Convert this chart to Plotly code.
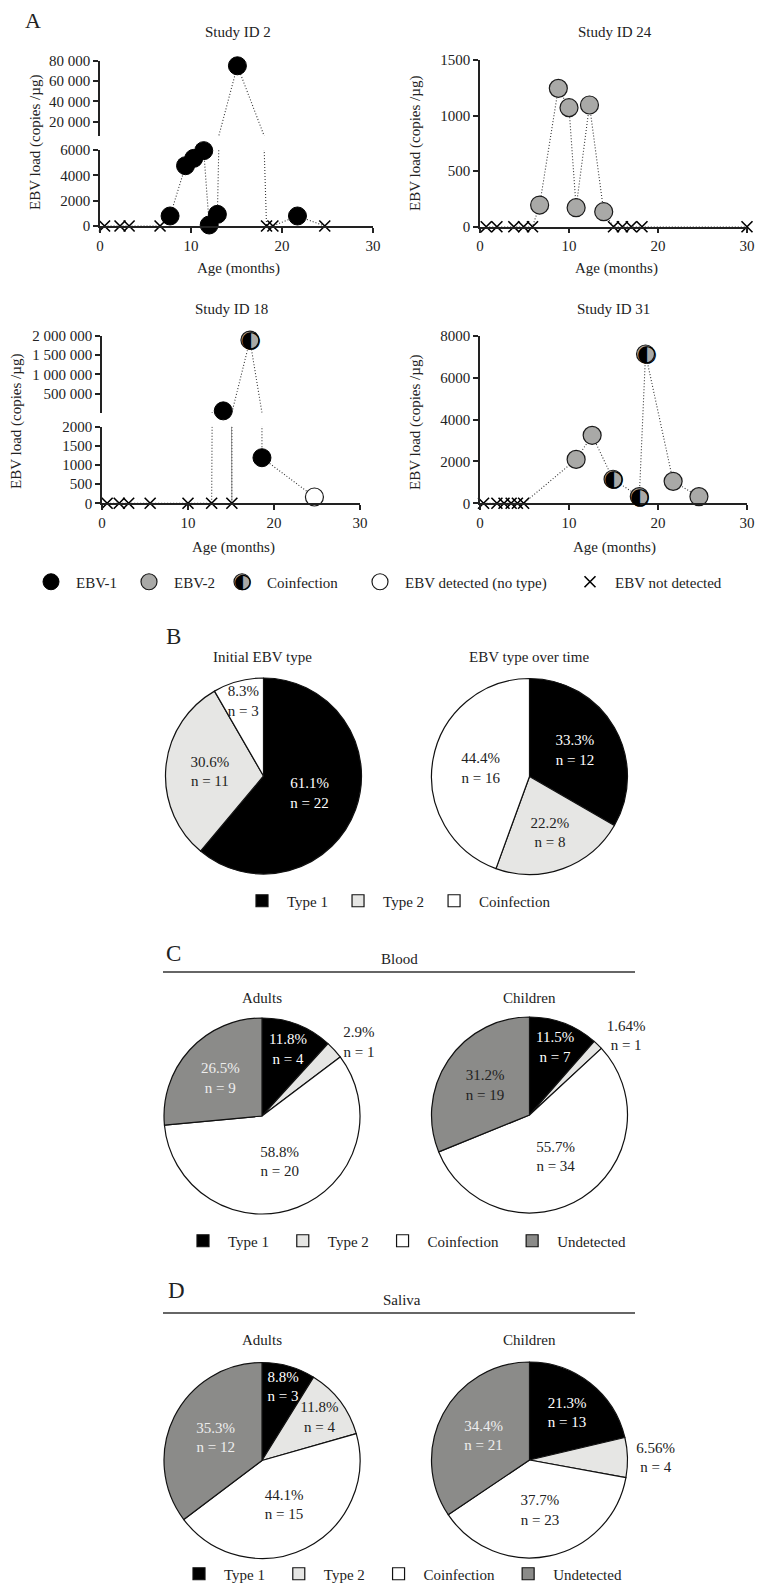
import plotly.graph_objects as go

# Page is 764 x 1593; the figure sits inside the default 8px page margin.
PAGE_W, PAGE_H = 764, 1593
M = 8
W, H = PAGE_W - 2 * M, PAGE_H - 2 * M


def px(x):
    return (x - M) / W


def py(y):
    return 1 - (y - M) / H


# ---------------- Panel A data (age in months, EBV load copies/µg) ----------------
s2_age = [0.5, 2.2, 3.2, 6.6, 7.7, 9.4, 10.3, 11.4, 12.0, 12.9, 15.1, 18.3, 19.0, 21.7, 24.7]
s2_load = [0, 0, 0, 0, 790, 4760, 5340, 5950, 80, 920, 75000, 0, 0, 790, 0]
s2_type = ["nd", "nd", "nd", "nd", "e1", "e1", "e1", "e1", "e1", "e1", "e1", "nd", "nd", "e1", "nd"]

s24_age = [0.7, 1.9, 3.8, 4.9, 5.9, 6.7, 8.8, 10.0, 10.8, 12.3, 13.9, 15.0, 16.0, 17.0, 18.2, 30.0]
s24_load = [0, 0, 0, 0, 0, 195, 1245, 1071, 171, 1095, 135, 0, 0, 0, 0, 0]
s24_type = ["nd"] * 5 + ["e2"] * 6 + ["nd"] * 5

s18_age = [0.6, 2.0, 3.1, 5.6, 10.0, 12.75, 14.1, 15.1, 17.2, 18.6, 24.7]
s18_load = [0, 0, 0, 0, 0, 0, 50000, 0, 1894000, 1190, 165]
s18_type = ["nd"] * 6 + ["e1", "nd", "co", "e1", "nt"]

s31_age = [0.4, 1.9, 2.7, 3.5, 4.2, 4.9, 10.8, 12.6, 14.95, 17.9, 18.6, 21.7, 24.6]
s31_load = [0, 0, 0, 0, 0, 0, 2100, 3250, 1150, 320, 7140, 1050, 320]
s31_type = ["nd"] * 6 + ["e2", "e2", "co", "co", "co", "e2", "e2"]

# tick values / labels
x_ticks = [0, 10, 20, 30]
s2_lo_ticks = [0, 2000, 4000, 6000]
s2_lo_labels = ["0", "2000", "4000", "6000"]
s2_up_ticks = [20000, 40000, 60000, 80000]
s2_up_labels = ["20 000", "40 000", "60 000", "80 000"]
s24_ticks = [0, 500, 1000, 1500]
s24_labels = ["0", "500", "1000", "1500"]
s18_lo_ticks = [0, 500, 1000, 1500, 2000]
s18_lo_labels = ["0", "500", "1000", "1500", "2000"]
s18_up_ticks = [500000, 1000000, 1500000, 2000000]
s18_up_labels = ["500 000", "1 000 000", "1 500 000", "2 000 000"]
s31_ticks = [0, 2000, 4000, 6000, 8000]
s31_labels = ["0", "2000", "4000", "6000", "8000"]

type_names = {"e1": "EBV-1", "e2": "EBV-2", "co": "Coinfection",
              "nt": "EBV detected (no type)", "nd": "EBV not detected"}

# ---------------- Pie data ----------------
b_labels = ["Type 1", "Type 2", "Coinfection"]
b_init_n = [22, 11, 3]
b_init_pct = ["61.1%", "30.6%", "8.3%"]
b_time_n = [12, 8, 16]
b_time_pct = ["33.3%", "22.2%", "44.4%"]

cd_labels = ["Type 1", "Type 2", "Coinfection", "Undetected"]
c_adult_n = [4, 1, 20, 9]
c_adult_pct = ["11.8%", "2.9%", "58.8%", "26.5%"]
c_child_n = [7, 1, 34, 19]
c_child_pct = ["11.5%", "1.64%", "55.7%", "31.2%"]
d_adult_n = [3, 4, 15, 12]
d_adult_pct = ["8.8%", "11.8%", "44.1%", "35.3%"]
d_child_n = [13, 4, 23, 21]
d_child_pct = ["21.3%", "6.56%", "37.7%", "34.4%"]

# ---------------- Styles ----------------
FONT = "Liberation Serif"
TXT = "#222222"
GRAY2 = "#a9a9a7"
LIGHT = "#e6e6e4"
UND = "#8b8b89"

mstyle = {
    "e1": dict(symbol="circle", size=18, color="#000000", line=dict(color="#000000", width=1)),
    "e2": dict(symbol="circle", size=18, color=GRAY2, line=dict(color="#1a1a1a", width=1.2)),
    "co": dict(symbol="circle", size=18, color=GRAY2, line=dict(color="#1a1a1a", width=1.2)),
    "nt": dict(symbol="circle", size=18, color="#ffffff", line=dict(color="#1a1a1a", width=1.2)),
    "nd": dict(symbol="x-thin", size=11, color="#000000", line=dict(color="#000000", width=1.6)),
}
rank = {"e1": 1, "e2": 2, "co": 3, "nt": 4, "nd": 5}
legw = {"e1": 43, "e2": 38, "co": 83, "nt": 155, "nd": None}

fig = go.Figure()

studies = [
    dict(age=s2_age, load=s2_load, typ=s2_type, xa="x", lo="y", up="y2", brk=6000),
    dict(age=s24_age, load=s24_load, typ=s24_type, xa="x2", lo="y3", up=None, brk=None),
    dict(age=s18_age, load=s18_load, typ=s18_type, xa="x3", lo="y4", up="y5", brk=2000),
    dict(age=s31_age, load=s31_load, typ=s31_type, xa="x4", lo="y6", up=None, brk=None),
]


def segments(age, load, keep):
    xs, ys = [], []
    for i in range(len(age) - 1):
        if not keep(load[i], load[i + 1]):
            continue
        if not (xs and xs[-1] == age[i] and ys[-1] == load[i]):
            if xs:
                xs.append(None)
                ys.append(None)
            xs.append(age[i])
            ys.append(load[i])
        xs.append(age[i + 1])
        ys.append(load[i + 1])
    return xs, ys


LINE = dict(color="#333333", width=1.1, dash="1px,2px")
GLYPH_FONT = dict(family="DejaVu Sans", size=23, color="#000000")
shown = set()
annotations = []
for st in studies:
    if st["up"]:
        b = st["brk"]
        lx, ly = segments(st["age"], st["load"], lambda a, c: min(a, c) <= b)
        ux, uy = segments(st["age"], st["load"], lambda a, c: max(a, c) > b)
        fig.add_trace(go.Scatter(x=lx, y=ly, mode="lines", line=LINE, xaxis=st["xa"], yaxis=st["lo"],
                                 showlegend=False, hoverinfo="skip"))
        fig.add_trace(go.Scatter(x=ux, y=uy, mode="lines", line=LINE, xaxis=st["xa"], yaxis=st["up"],
                                 showlegend=False, hoverinfo="skip"))
        axes = [st["lo"], st["up"]]
    else:
        fig.add_trace(go.Scatter(x=st["age"], y=st["load"], mode="lines", line=LINE,
                                 xaxis=st["xa"], yaxis=st["lo"], showlegend=False, hoverinfo="skip"))
        axes = [st["lo"]]
    for t in ["nd", "nt", "e1", "e2", "co"]:
        for ya in axes:
            xs, ys = [], []
            for a, l, tt in zip(st["age"], st["load"], st["typ"]):
                if tt != t:
                    continue
                if st["up"]:
                    on_up = l > st["brk"]
                    if (ya == st["up"]) != on_up:
                        continue
                xs.append(a)
                ys.append(l)
            if not xs:
                continue
            tr = go.Scatter(x=xs, y=ys, mode="markers", marker=mstyle[t],
                            name=type_names[t], legendrank=rank[t],
                            showlegend=t not in shown, legend="legend",
                            cliponaxis=False, xaxis=st["xa"], yaxis=ya, hoverinfo="skip")
            if t not in shown and legw[t]:
                tr.legendwidth = legw[t]
            fig.add_trace(tr)
            shown.add(t)
            if t == "co":
                for a, l in zip(xs, ys):
                    annotations.append(dict(x=a, y=l, xref=st["xa"], yref=ya, text="◐",
                                            showarrow=False, yshift=1, xshift=1, font=GLYPH_FONT))


# ---------------- Pies ----------------
def pie(values, pcts, labels, colors, cx, cy, r, tpos, tcol, legend):
    return go.Pie(values=values, labels=labels,
                  text=[f"{p}<br>n = {n}" for p, n in zip(pcts, values)],
                  textinfo="text", sort=False, direction="clockwise", rotation=0,
                  marker=dict(colors=colors, line=dict(color="#111111", width=1.2)),
                  domain=dict(x=[px(cx - r), px(cx + r)], y=[py(cy + r), py(cy - r)]),
                  textposition=tpos, insidetextorientation="horizontal",
                  textfont=dict(family=FONT, size=15, color=tcol),
                  legend=legend, showlegend=True, hoverinfo="skip")


bcols = ["#000000", LIGHT, "#ffffff"]
cdcols = ["#000000", LIGHT, "#ffffff", UND]
c_labels = [s + " " for s in cd_labels]
d_labels = [s + "\u00a0" for s in cd_labels]
W_ = "#ffffff"
fig.add_trace(pie(b_init_n, b_init_pct, b_labels, bcols, 263.5, 776, 98,
                  ["inside"] * 3, [W_, TXT, TXT], "legend2"))
fig.add_trace(pie(b_time_n, b_time_pct, b_labels, bcols, 529.5, 776.5, 98,
                  ["inside"] * 3, [W_, TXT, TXT], "legend2"))
fig.add_trace(pie(c_adult_n, c_adult_pct, c_labels, cdcols, 262, 1116, 98,
                  ["inside", "outside", "inside", "inside"], [W_, TXT, TXT, "#eeeeee"], "legend3"))
fig.add_trace(pie(c_child_n, c_child_pct, c_labels, cdcols, 529.5, 1115, 98,
                  ["inside", "outside", "inside", "inside"], [W_, TXT, TXT, TXT], "legend3"))
fig.add_trace(pie(d_adult_n, d_adult_pct, d_labels, cdcols, 262, 1460.5, 98,
                  ["inside"] * 4, [W_, TXT, TXT, "#eeeeee"], "legend4"))
fig.add_trace(pie(d_child_n, d_child_pct, d_labels, cdcols, 529.5, 1460, 98,
                  ["inside", "outside", "inside", "inside"], [W_, TXT, TXT, "#eeeeee"], "legend4"))


# ---------------- Axes ----------------
def xax(x0, x1, anchor):
    return dict(domain=[px(x0), min(px(x1), 1)], range=[0, 30], anchor=anchor, tickvals=x_ticks,
                showline=True, linecolor="#222", linewidth=1.5, ticks="outside", ticklen=5,
                tickwidth=1.5, tickcolor="#222", showgrid=False, zeroline=False, automargin=False,
                ticklabeloverflow="allow",
                tickfont=dict(family=FONT, size=15, color=TXT), fixedrange=True)


def yax(y_bot, y_top, rng, tv, tt, anchor):
    return dict(domain=[py(y_bot), py(y_top)], range=rng, anchor=anchor, tickvals=tv, ticktext=tt,
                showline=True, linecolor="#222", linewidth=1.5, ticks="outside", ticklen=5,
                tickwidth=1.5, tickcolor="#222", showgrid=False, zeroline=False, automargin=False,
                ticklabeloverflow="allow",
                tickfont=dict(family=FONT, size=15, color=TXT), fixedrange=True)


layout = dict(
    xaxis=xax(100, 373, "y"),
    yaxis=yax(226, 150, [0, 6000], s2_lo_ticks, s2_lo_labels, "x"),
    yaxis2=yax(136, 60.7, [6000, 80000], s2_up_ticks, s2_up_labels, "x"),
    xaxis2=xax(480, 747, "y3"),
    yaxis3=yax(226.7, 60, [0, 1500], s24_ticks, s24_labels, "x2"),
    xaxis3=xax(102, 360, "y4"),
    yaxis4=yax(503.3, 426.7, [0, 2000], s18_lo_ticks, s18_lo_labels, "x3"),
    yaxis5=yax(412.7, 336, [2000, 2000000], s18_up_ticks, s18_up_labels, "x3"),
    xaxis4=xax(480, 747, "y6"),
    yaxis6=yax(503.3, 336, [0, 8000], s31_ticks, s31_labels, "x4"),
)


def ann(text, x, y, size=15, angle=0, color=TXT, family=FONT):
    return dict(text=text, x=px(x), y=py(y), xref="paper", yref="paper", showarrow=False,
                xanchor="center", yanchor="middle", textangle=angle,
                font=dict(family=family, size=size, color=color))


ytitle = "EBV load (copies /µg)"
annotations += [
    ann("A", 33, 21, 22),
    ann("Study ID 2", 238, 32), ann("Study ID 24", 615, 32),
    ann("Study ID 18", 232, 309), ann("Study ID 31", 613, 309),
    ann(ytitle, 35, 143, 15, -90), ann(ytitle, 415, 143, 15, -90),
    ann(ytitle, 16, 422, 15, -90), ann(ytitle, 415, 422, 15, -90),
    ann("Age (months)", 238, 269), ann("Age (months)", 616, 269),
    ann("Age (months)", 233, 547), ann("Age (months)", 614, 547),
    ann("B", 173, 637, 23),
    ann("Initial EBV type", 263, 657), ann("EBV type over time", 529, 657),
    ann("C", 173, 953, 23), ann("Blood", 399, 959),
    ann("Adults", 262, 998), ann("Children", 529, 998),
    ann("D", 176, 1290, 23), ann("Saliva", 402, 1300),
    ann("Adults", 262, 1340), ann("Children", 529, 1340),
]

shapes = [
    dict(type="line", xref="paper", yref="paper", x0=px(163), x1=px(635), y0=py(972), y1=py(972),
         line=dict(color="#333", width=1.5)),
    dict(type="line", xref="paper", yref="paper", x0=px(163), x1=px(635), y0=py(1313), y1=py(1313),
         line=dict(color="#333", width=1.5)),
]


def leg(x, y, size=15):
    return dict(orientation="h", x=px(x), y=py(y), xanchor="left", yanchor="middle",
                font=dict(family=FONT, size=size, color=TXT), bgcolor="rgba(0,0,0,0)",
                itemclick=False, itemdoubleclick=False, traceorder="normal", itemwidth=40)


LEG_A_X, LEG_A_Y = 26, 582
legA = leg(LEG_A_X, LEG_A_Y, 15)
legA["itemsizing"] = "trace"
# half-filled glyph over the Coinfection legend symbol (3rd entry)
co_sym_x = LEG_A_X + 25 + (50 + legw["e1"] + 5) + (50 + legw["e2"] + 5)
annotations.append(dict(text="◐", x=px(co_sym_x), y=py(LEG_A_Y), xref="paper", yref="paper",
                        showarrow=False, xanchor="center", yanchor="middle", xshift=1, yshift=1,
                        font=dict(family="DejaVu Sans", size=20.5, color="#000000")))

fig.update_layout(
    width=W, height=H, margin=dict(l=0, r=0, t=0, b=0, pad=0, autoexpand=False),
    paper_bgcolor="white", plot_bgcolor="white",
    font=dict(family=FONT, size=15, color=TXT),
    uniformtext=dict(minsize=15, mode="show"),
    legend=legA,
    legend2=leg(237, 901),
    legend3=leg(178, 1241),
    legend4=leg(174, 1574),
    annotations=annotations, shapes=shapes,
    **layout,
)

fig.write_html("out.html")
